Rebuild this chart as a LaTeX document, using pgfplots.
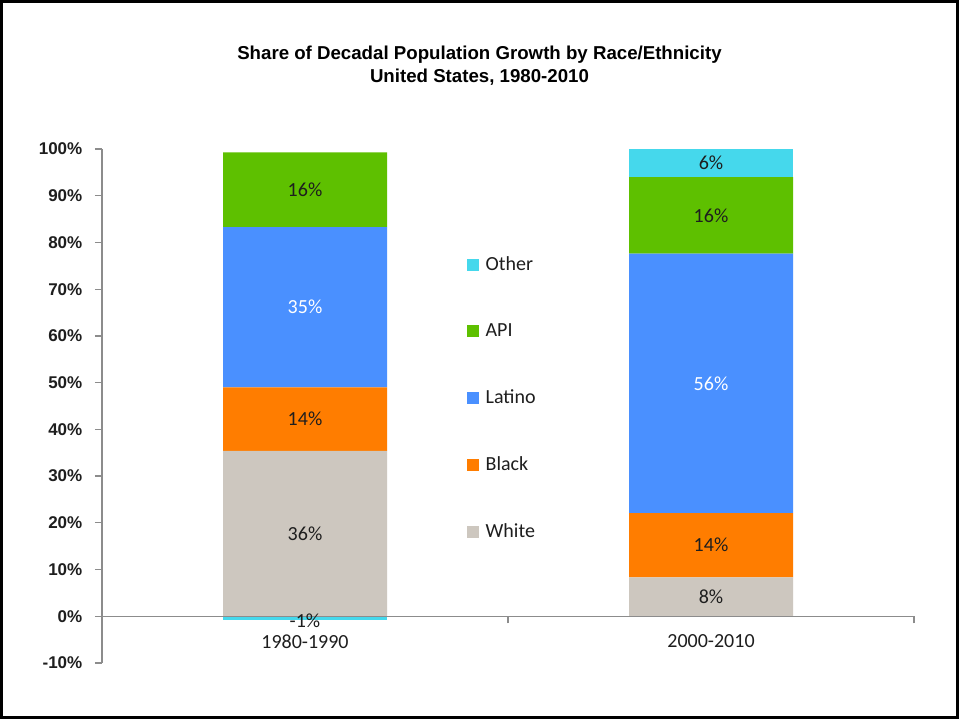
\documentclass[border=0pt]{standalone}
\usepackage{pgfplots}
\pgfplotsset{compat=1.18}
\usepackage{fontspec}
\setmainfont{Carlito}
\newfontfamily\arialfont{Liberation Sans}
\definecolor{cOther}{RGB}{69,216,236}
\definecolor{cAPI}{RGB}{94,192,0}
\definecolor{cLatino}{RGB}{74,144,255}
\definecolor{cBlack}{RGB}{255,125,0}
\definecolor{cWhite}{RGB}{205,199,191}
\definecolor{axisgray}{RGB}{140,140,140}
\definecolor{txt}{RGB}{30,30,30}
\pgfplotsset{
  shared/.style={
    at={(76.5pt,42pt)}, anchor=south west,
    scale only axis, width=609pt, height=385.5pt,
    xmin=-0.5, xmax=1.5, ymin=-10, ymax=100,
  },
}
\begin{document}
\begin{tikzpicture}
\useasboundingbox (0,0) rectangle (719.25pt,539.25pt);
\fill[white] (0,0) rectangle (719.25pt,539.25pt);
% negative part of "Other" (1980-1990)
\begin{axis}[shared, hide axis]
\addplot[ybar, bar width=123pt, bar shift=0pt, fill=cOther, draw=none] coordinates {(0,-0.9)};
\end{axis}
% main stacked bars
\begin{axis}[shared, ybar stacked, bar width=123pt, axis on top,
  axis x line=middle, axis y line=left,
  axis line style={draw=axisgray, line width=0.9pt, -},
  hide obscured x ticks=false, hide obscured y ticks=false,
  tick align=outside, major tick length=5.25pt,
  tick style={draw=axisgray, line width=0.9pt},
  ytick={-10,0,10,20,30,40,50,60,70,80,90,100},
  /pgf/number format/assume math mode=true,
  yticklabel={\pgfmathprintnumber{\tick}\%},
  yticklabel style={font=\arialfont\bfseries\fontsize{12.75pt}{14pt}\selectfont, text=txt, xshift=-6pt},
  xtick={-0.5,0.5,1.5}, xticklabels={},
  extra x ticks={0,1}, extra x tick labels={1980-1990,2000-2010},
  extra x tick style={major tick length=0pt},
  xticklabel style={font=\fontsize{15pt}{18pt}\selectfont, text=txt, yshift=-10.5pt},
  legend style={at={(0.4495,0.7957)}, anchor=north west, draw=none, fill=none,
    inner sep=0pt, outer sep=0pt, row sep=34.4pt,
    font=\fontsize{15pt}{18pt}\selectfont, text=txt,
    /tikz/every odd column/.append style={column sep=3pt}},
  reverse legend, legend cell align=left,
  legend image code/.code={\fill[#1] (0pt,-4.5pt) rectangle (9pt,4.5pt);},
]
\addplot[fill=cWhite, draw=none] coordinates {(0,35.4) (1,8.3)};
\addlegendentry{White}
\addplot[fill=cBlack, draw=none] coordinates {(0,13.6) (1,13.8)};
\addlegendentry{Black}
\addplot[fill=cLatino, draw=none] coordinates {(0,34.3) (1,55.5)};
\addlegendentry{Latino}
\addplot[fill=cAPI, draw=none] coordinates {(0,16.0) (1,16.4)};
\addlegendentry{API}
\addplot[fill=cOther, draw=none] coordinates {(0,0) (1,6.0)};
\addlegendentry{Other}
\end{axis}
% data labels
\begin{axis}[shared, hide axis, clip=false]
\addplot[draw=none, mark=none, nodes near coords, point meta=explicit symbolic,
  nodes near coords style={anchor=center, font=\fontsize{15pt}{18pt}\selectfont, text=txt}]
  coordinates {(0,17.7)[36\%] (0,42.2)[14\%] (0,91.3)[16\%] (0,-0.9)[-1\%]
               (1,4.15)[8\%] (1,15.2)[14\%] (1,85.8)[16\%] (1,97.0)[6\%]};
\addplot[draw=none, mark=none, nodes near coords, point meta=explicit symbolic,
  nodes near coords style={anchor=center, font=\fontsize{15pt}{18pt}\selectfont, text=white}]
  coordinates {(0,66.15)[35\%] (1,49.85)[56\%]};
\end{axis}
\node[align=center, font=\arialfont\bfseries\fontsize{14pt}{17.5pt}\selectfont, text=black]
  at (359.6pt,489.75pt) {Share of Decadal Population Growth by Race/Ethnicity\\United States, 1980-2010};
\draw[line width=2.25pt, black] (1.125pt,1.125pt) rectangle (718.125pt,538.125pt);
\end{tikzpicture}
\end{document}
